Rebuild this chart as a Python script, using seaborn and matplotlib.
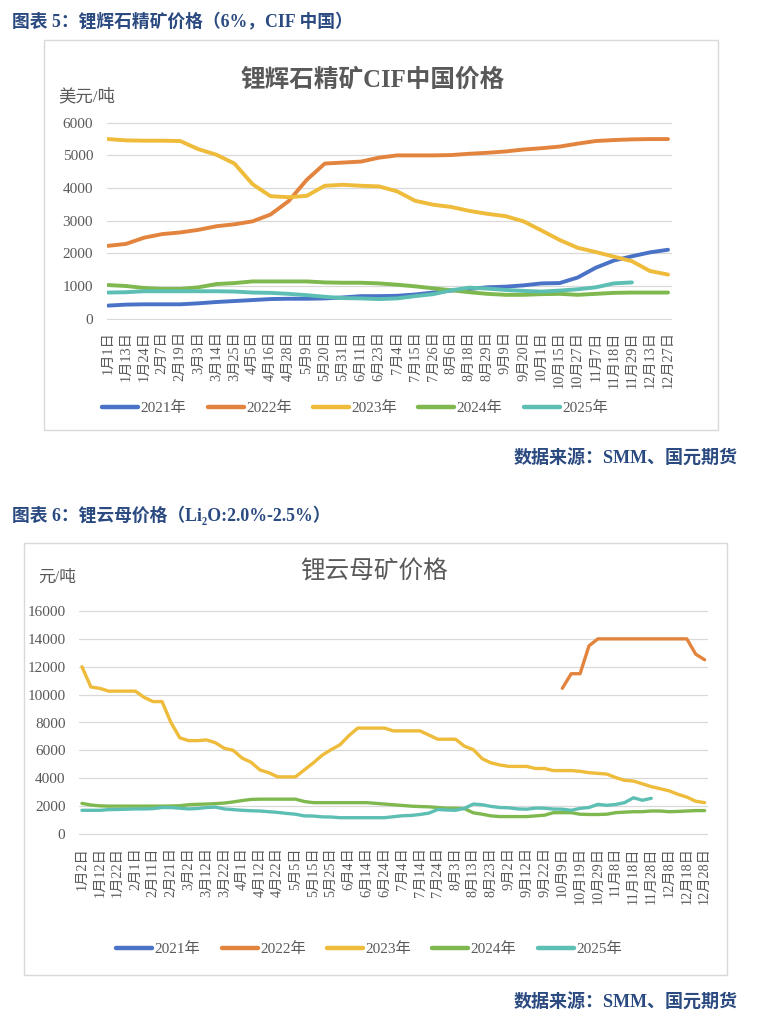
import numpy as np
import pandas as pd
import matplotlib
matplotlib.use("Agg")
import matplotlib.pyplot as plt
from matplotlib.lines import Line2D
from matplotlib.patches import Rectangle
from matplotlib.font_manager import FontProperties
import seaborn as sns

nan = np.nan

YEARS = ["2021年", "2022年", "2023年", "2024年", "2025年"]
COLORS = ["#4A72C6", "#E3843E", "#EEBB3A", "#7EB84F", "#5DBFB3"]

# chart 5: spodumene concentrate CIF China, one value per label
SPOD_LABELS = ["1月1日", "1月13日", "1月24日", "2月7日", "2月19日", "3月3日", "3月14日", "3月25日",
               "4月5日", "4月16日", "4月28日", "5月9日", "5月20日", "5月31日", "6月11日", "6月23日",
               "7月4日", "7月15日", "7月26日", "8月6日", "8月18日", "8月29日", "9月9日", "9月20日",
               "10月1日", "10月15日", "10月27日", "11月7日", "11月18日", "11月29日", "12月13日", "12月27日"]
SPOD_2021 = [400, 430, 440, 440, 440, 470, 510, 540, 570, 600, 610, 610, 620, 650, 690, 690,
             700, 740, 800, 860, 910, 960, 980, 1020, 1080, 1090, 1260, 1560, 1780, 1910, 2030, 2110]
SPOD_2022 = [2230, 2290, 2480, 2590, 2640, 2720, 2830, 2890, 2980, 3190, 3600, 4250, 4750, 4780, 4810, 4930,
             5000, 5000, 5000, 5010, 5050, 5080, 5120, 5180, 5220, 5270, 5360, 5440, 5470, 5490, 5500, 5500]
SPOD_2023 = [5500, 5460, 5450, 5450, 5440, 5190, 5020, 4750, 4120, 3750, 3720, 3760, 4070, 4100, 4070, 4050,
             3900, 3610, 3490, 3420, 3300, 3210, 3140, 2980, 2700, 2410, 2170, 2040, 1900, 1760, 1460, 1350]
SPOD_2024 = [1030, 1000, 940, 910, 910, 960, 1060, 1090, 1140, 1140, 1140, 1140, 1110, 1100, 1100, 1080,
             1040, 990, 930, 870, 810, 760, 730, 730, 750, 760, 730, 760, 790, 800, 800, 800]
SPOD_2025 = [800, 810, 840, 840, 840, 840, 840, 830, 800, 790, 760, 720, 670, 630, 620, 600,
             620, 690, 750, 870, 950, 920, 880, 850, 830, 860, 900, 960, 1080, 1110, nan, nan]

# chart 6: lepidolite, two values per label (every half label step)
LEPI_LABELS = ["1月2日", "1月12日", "1月22日", "2月1日", "2月11日", "2月21日", "3月2日", "3月12日", "3月22日",
               "4月1日", "4月12日", "4月22日", "5月5日", "5月15日", "5月25日", "6月4日", "6月14日", "6月24日",
               "7月4日", "7月14日", "7月24日", "8月3日", "8月13日", "8月23日", "9月2日", "9月12日", "9月22日",
               "10月9日", "10月19日", "10月29日", "11月8日", "11月18日", "11月28日", "12月8日", "12月18日", "12月28日"]
LEPI_2021 = [nan] * 71
LEPI_2022 = [nan] * 54 + [10450, 11500, 11500, 13500] + [14000] * 11 + [12900, 12500]
LEPI_2023 = [12000, 10550, 10450, 10250, 10250, 10250, 10250, 9800, 9500, 9500,
             8000, 6900, 6700, 6700, 6750, 6550, 6150, 6000, 5450, 5150,
             4600, 4400, 4100, 4100, 4100, 4600, 5100, 5650, 6050, 6400,
             7050, 7600, 7600, 7600, 7600, 7400, 7400, 7400, 7400, 7100,
             6800, 6800, 6800, 6300, 6050, 5400, 5100, 4950, 4850, 4850,
             4850, 4700, 4700, 4550, 4550, 4550, 4500, 4400, 4350, 4300,
             4050, 3850, 3800, 3600, 3400, 3250, 3100, 2850, 2650, 2350,
             2250]
LEPI_2024 = [2200, 2080, 2020, 2000, 2000, 2000, 2000, 2000, 2000, 2000,
             2010, 2030, 2100, 2130, 2150, 2180, 2220, 2300, 2400, 2480,
             2500, 2500, 2500, 2500, 2500, 2330, 2250, 2250, 2250, 2250,
             2250, 2250, 2250, 2200, 2150, 2100, 2050, 2000, 1970, 1950,
             1900, 1850, 1850, 1820, 1520, 1420, 1300, 1250, 1250, 1250,
             1250, 1300, 1350, 1530, 1530, 1530, 1420, 1400, 1400, 1420,
             1530, 1570, 1600, 1600, 1650, 1650, 1600, 1620, 1650, 1680,
             1680]
LEPI_2025 = [1700, 1700, 1700, 1750, 1760, 1780, 1800, 1800, 1820, 1900,
             1900, 1850, 1800, 1830, 1900, 1930, 1800, 1750, 1700, 1670,
             1650, 1600, 1550, 1480, 1420, 1300, 1290, 1230, 1220, 1170,
             1170, 1170, 1170, 1170, 1170, 1240, 1310, 1330, 1400, 1500,
             1760, 1720, 1700, 1840, 2150, 2100, 1980, 1900, 1880, 1800,
             1780, 1860, 1850, 1790, 1780, 1700, 1840, 1900, 2130, 2060,
             2120, 2250, 2600, 2420, 2560, nan, nan, nan, nan, nan,
             nan]

W, H = 764, 1028
NAVY = "#2A4A80"
GREY = "#595959"
GRID = "#D9D9D9"
SERIF_CJK = ["Liberation Serif", "Noto Sans CJK SC", "DejaVu Sans"]


def fx(px):
    return px / W


def fy(py):
    return 1 - py / H


def long_df(series, step):
    frames = []
    for year, values in zip(YEARS, series):
        frames.append(pd.DataFrame({
            "pos": np.arange(len(values)) * step,
            "price": values,
            "year": year,
        }))
    return pd.concat(frames, ignore_index=True).dropna()


def draw_panel(ax, labels, series, step, ylim, yticks, lw):
    df = long_df(series, step)
    sns.lineplot(data=df, x="pos", y="price", hue="year", palette=dict(zip(YEARS, COLORS)),
                 hue_order=YEARS, estimator=None, linewidth=lw, legend=False, ax=ax,
                 solid_capstyle="round")
    ax.set_ylim(*ylim)
    ax.set_yticks(yticks)
    ax.set_yticklabels([str(v) for v in yticks], fontsize=11, color=GREY, family=SERIF_CJK)
    ax.set_xticks(range(len(labels)))
    ax.set_xticklabels(labels, rotation=90, fontsize=10.3, color=GREY, family=SERIF_CJK, va="top")
    ax.set_xlabel("")
    ax.set_ylabel("")
    ax.yaxis.grid(True, color=GRID, linewidth=0.9)
    ax.set_axisbelow(True)
    for s in ax.spines.values():
        s.set_visible(False)
    ax.tick_params(length=0)
    ax.tick_params(axis="y", pad=10)
    ax.tick_params(axis="x", pad=8)


def add_legend(fig, cx, cy):
    handles = [Line2D([0], [0], color=c, lw=3.2, solid_capstyle="round") for c in COLORS]
    fig.legend(handles, YEARS, loc="center", bbox_to_anchor=(fx(cx), fy(cy)), ncol=5, frameon=False,
               handlelength=2.35, handletextpad=0.15, columnspacing=1.4,
               prop=FontProperties(family=SERIF_CJK, size=11), labelcolor=GREY)


sns.set_style("white")
plt.rcParams["font.family"] = SERIF_CJK

fig = plt.figure(figsize=(W / 100, H / 100), dpi=100)

# frames
fig.patches.append(Rectangle((fx(44), fy(430)), fx(718 - 44), (430 - 40) / H, transform=fig.transFigure,
                             fill=False, edgecolor=GRID, linewidth=1))
fig.patches.append(Rectangle((fx(24), fy(975)), fx(727 - 24), (975 - 543) / H, transform=fig.transFigure,
                             fill=False, edgecolor=GRID, linewidth=1))

# chart 5
fig.text(fx(12), fy(22), "图表 5：锂辉石精矿价格（6%，CIF 中国）", fontsize=12.8, fontweight="bold",
         color=NAVY, va="center", ha="left")
fig.text(fx(373), fy(80), "锂辉石精矿CIF中国价格", fontsize=17.7, fontweight="bold", color=GREY,
         ha="center", va="center")
fig.text(fx(58), fy(97), "美元/吨", fontsize=12.5, color=GREY, ha="left", va="center")

ax1 = fig.add_axes([fx(107), fy(320.3), fx(672 - 107), (320.3 - 121.1) / H])
draw_panel(ax1, SPOD_LABELS, [SPOD_2021, SPOD_2022, SPOD_2023, SPOD_2024, SPOD_2025], 1,
           (-50, 6050), list(range(0, 7000, 1000)), 2.8)
ax1.set_xlim(-0.055, 31.22)
add_legend(fig, 355, 408)
fig.text(fx(738), fy(459), "数据来源：SMM、国元期货", fontsize=13, fontweight="bold", color=NAVY,
         ha="right", va="center")

# chart 6
fig.text(fx(12), fy(515), "图表 6：锂云母价格（Li₂O:2.0%-2.5%）", fontsize=12.8, fontweight="bold",
         color=NAVY, va="center", ha="left")
fig.text(fx(374), fy(572), "锂云母矿价格", fontsize=17.7, color=GREY, ha="center", va="center",
         family=["Noto Sans CJK SC", "DejaVu Sans"])
fig.text(fx(38), fy(578), "元/吨", fontsize=12, color=GREY, ha="left", va="center")

ax2 = fig.add_axes([fx(79.3), fy(836.1), fx(708 - 79.3), (836.1 - 608.9) / H])
draw_panel(ax2, LEPI_LABELS, [LEPI_2021, LEPI_2022, LEPI_2023, LEPI_2024, LEPI_2025], 0.5,
           (-150, 16150), list(range(0, 18000, 2000)), 2.4)
ax2.set_xlim(-0.15, 35.19)
add_legend(fig, 369, 949)
fig.text(fx(738), fy(1003), "数据来源：SMM、国元期货", fontsize=13, fontweight="bold", color=NAVY,
         ha="right", va="center")

fig.savefig("out.png", dpi=100)
